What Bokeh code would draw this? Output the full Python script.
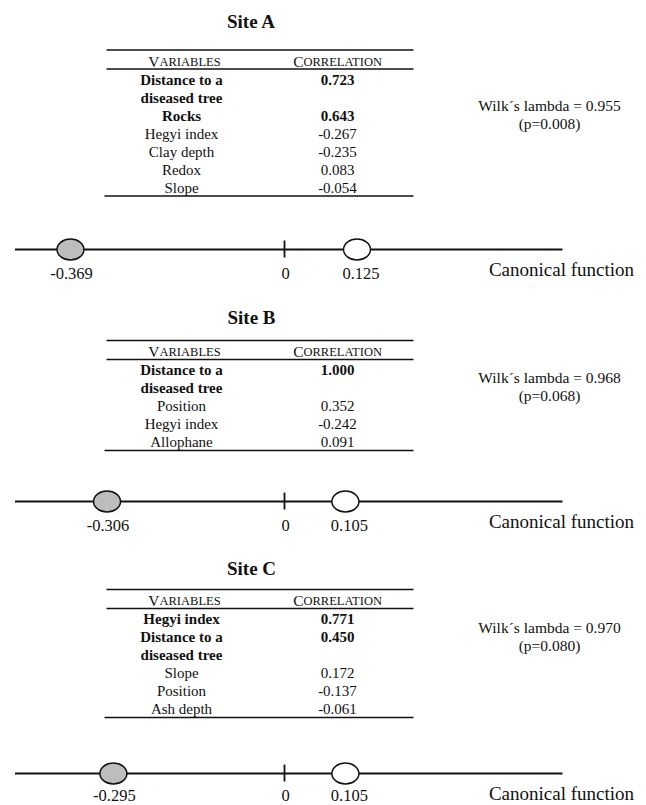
from bokeh.plotting import figure
from bokeh.models import Range1d
from bokeh.core.properties import value
from bokeh.embed import file_html
from bokeh.resources import INLINE

# ---- data -------------------------------------------------------------
sites = ["Site A", "Site B", "Site C"]

variables_a = ["Distance to a\ndiseased tree", "Rocks", "Hegyi index",
               "Clay depth", "Redox", "Slope"]
correlations_a = [0.723, 0.643, -0.267, -0.235, 0.083, -0.054]

variables_b = ["Distance to a\ndiseased tree", "Position", "Hegyi index",
               "Allophane"]
correlations_b = [1.000, 0.352, -0.242, 0.091]

variables_c = ["Hegyi index", "Distance to a\ndiseased tree", "Slope",
               "Position", "Ash depth"]
correlations_c = [0.771, 0.450, 0.172, -0.137, -0.061]

# number of leading (significant) variables shown in bold
n_bold = [2, 1, 2]

wilks_lambda = [0.955, 0.968, 0.970]
p_values = [0.008, 0.068, 0.080]

# group centroids on the canonical function
centroid_gray = [-0.369, -0.306, -0.295]
centroid_white = [0.125, 0.105, 0.105]

# ---- layout -----------------------------------------------------------
W, H = 646, 805
ZERO_PX = 284.0      # horizontal pixel position of canonical value 0
PX_PER_UNIT = 580.0  # pixels per canonical unit


def X(px):
    """Convert a horizontal pixel position into canonical-function units."""
    return (px - ZERO_PX) / PX_PER_UNIT


title_y = [21, 317, 568]
table_top = [49.5, 340, 589]
row_step = 18.0
wilk_y = [105, 377, 627]
axis_y = [249, 501, 773]

TABLE_L, TABLE_R = 105, 413
COL_VAR, COL_COR = 181, 337
WILK_X = 549
LINE_L, LINE_R = 14.5, 562
CANON_X = 561

SERIF = value("Liberation Serif")

p = figure(width=W, height=H, x_range=Range1d(X(0), X(W)),
           y_range=Range1d(H, 0), x_axis_type=None, y_axis_type=None,
           output_backend="svg", toolbar_location=None, min_border=0)
p.grid.visible = False
p.outline_line_color = None
p.background_fill_color = "white"
p.border_fill_color = "white"

tables = [(variables_a, correlations_a),
          (variables_b, correlations_b),
          (variables_c, correlations_c)]


def txt(xs, ys, texts, size, bold=False, align="center", dx=0):
    p.text(x=xs, y=ys, text=texts, text_font=SERIF, text_font_size=size,
           text_font_style="bold" if bold else "normal", text_color="#111111",
           text_align=align, text_baseline="middle", x_offset=dx)


for i, site in enumerate(sites):
    names, cors = tables[i]
    top = table_top[i]

    # site title
    txt([X(251)], [title_y[i]], [site], "19px", bold=True)

    # table header with small capitals
    head_y = top + 10.5
    txt([X(159)], [head_y + 0.5], ["V"], "15.5px", align="right")
    txt([X(159)], [head_y + 1], ["ARIABLES"], "12.5px", align="left")
    txt([X(303)], [head_y + 0.5], ["C"], "15.5px", align="right")
    txt([X(303)], [head_y + 1], ["ORRELATION"], "12.5px", align="left")

    # table body
    header_rule = top + 19
    y = header_rule + 10.5
    bx, by, bt, rx, ry, rt = [], [], [], [], [], []
    for k, (name, cor) in enumerate(zip(names, cors)):
        lines = name.split("\n")
        bold = k < n_bold[i]
        for j, line in enumerate(lines):
            if bold:
                bx.append(X(COL_VAR)); by.append(y + j * row_step); bt.append(line)
            else:
                rx.append(X(COL_VAR)); ry.append(y + j * row_step); rt.append(line)
        if bold:
            bx.append(X(COL_COR)); by.append(y); bt.append(f"{cor:.3f}")
        else:
            rx.append(X(COL_COR)); ry.append(y); rt.append(f"{cor:.3f}")
        y += row_step * len(lines)
    bottom_rule = y - row_step + 8.5
    txt(bx, by, bt, "15px", bold=True)
    txt(rx, ry, rt, "15px")

    # table rules
    p.segment(x0=[X(TABLE_L + 1), X(TABLE_L + 1), X(TABLE_L - 1)],
              y0=[top, header_rule, bottom_rule],
              x1=[X(TABLE_R)] * 3,
              y1=[top, header_rule, bottom_rule],
              line_color="#111111", line_width=1.5)

    # Wilks' lambda
    txt([X(WILK_X)], [wilk_y[i]], [f"Wilk\u00b4s lambda = {wilks_lambda[i]:.3f}"], "15.5px")
    txt([X(WILK_X)], [wilk_y[i] + 17.5], [f"(p={p_values[i]:.3f})"], "15.5px")

    # canonical function axis
    ay = axis_y[i]
    p.segment(x0=[X(LINE_L)], y0=[ay], x1=[X(LINE_R)], y1=[ay],
              line_color="#111111", line_width=2)
    p.segment(x0=[0], y0=[ay - 9], x1=[0], y1=[ay + 8],
              line_color="#111111", line_width=1.8)

    p.ellipse(x=[centroid_gray[i]], y=[ay], width=27 / PX_PER_UNIT, height=21,
              fill_color="#bdbdbd", line_color="#111111", line_width=1.5)
    p.ellipse(x=[centroid_white[i]], y=[ay], width=27 / PX_PER_UNIT, height=21,
              fill_color="white", line_color="#111111", line_width=1.5)

    # centroid labels (kept inside the page at the bottom)
    label_y = min(ay + 23.5, H - 10)
    txt([centroid_gray[i]], [label_y], [f"{centroid_gray[i]:.3f}"], "16.5px", dx=1)
    txt([0], [label_y], ["0"], "16.5px", dx=1)
    txt([centroid_white[i]], [label_y], [f"{centroid_white[i]:.3f}"], "16.5px", dx=4)
    txt([X(CANON_X)], [min(ay + 19.5, H - 12)], ["Canonical function"], "19px")

open("out.html", "w").write(file_html(p, INLINE))
